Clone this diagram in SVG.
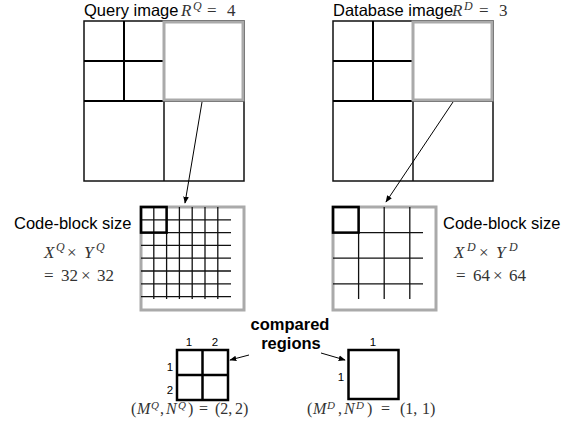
<svg xmlns="http://www.w3.org/2000/svg" width="574" height="429" viewBox="0 0 574 429">
<defs>
<style>
.lbl{font-family:"Liberation Sans",Arial,sans-serif;font-size:16.5px;fill:#000}
.bold{font-family:"Liberation Sans",Arial,sans-serif;font-size:16.5px;font-weight:bold;fill:#000}
.small{font-family:"Liberation Sans",Arial,sans-serif;font-size:11.5px;fill:#000}
.m{font-family:"Liberation Serif","Times New Roman",serif;font-size:17px;fill:#333}
.mi{font-style:italic}
.sup{font-size:12px;font-style:italic}
.supb{font-size:11px;font-style:italic}
.blk{fill:none;stroke:#111;stroke-width:1.5}
.blk2{fill:none;stroke:#000;stroke-width:2}
.gray{fill:none;stroke:#aaa;stroke-width:3}
.grid{stroke:#111;stroke-width:1.3}
.thick{fill:none;stroke:#000;stroke-width:2.5}
.arr{stroke:#000;stroke-width:1;fill:none;marker-end:url(#ah)}
</style>
<marker id="ah" viewBox="0 0 10 10" refX="9" refY="5" markerWidth="7" markerHeight="7" orient="auto" markerUnits="userSpaceOnUse">
<path d="M0,1 L10,5 L0,9 z" fill="#000"/>
</marker>
</defs>

<g id="query-image">
<text class="lbl" x="84" y="16">Query image</text>
<text class="m" y="16"><tspan class="mi" x="181">R</tspan><tspan class="sup" x="193" y="10">Q</tspan><tspan x="207" y="16">=</tspan><tspan x="227">4</tspan></text>
<rect class="blk" x="84" y="21" width="160" height="160"/>
<line class="blk2" x1="124" y1="21" x2="124" y2="101"/>
<line class="blk2" x1="84" y1="61" x2="164" y2="61"/>
<line class="blk2" x1="84" y1="101" x2="164" y2="101"/>
<line class="blk" x1="164" y1="101" x2="164" y2="181"/>
<line class="blk" x1="164" y1="101" x2="244" y2="101"/>
<rect class="gray" x="164" y="22" width="79" height="78"/>
</g>

<g id="database-image">
<text class="lbl" x="333" y="16">Database image</text>
<text class="m" y="16"><tspan class="mi" x="452">R</tspan><tspan class="sup" x="464" y="10">D</tspan><tspan x="479" y="16">=</tspan><tspan x="499">3</tspan></text>
<rect class="blk" x="333" y="21" width="160" height="160"/>
<line class="blk2" x1="373" y1="21" x2="373" y2="101"/>
<line class="blk2" x1="333" y1="61" x2="413" y2="61"/>
<line class="blk2" x1="333" y1="101" x2="413" y2="101"/>
<line class="blk" x1="413" y1="101" x2="413" y2="181"/>
<line class="blk" x1="413" y1="101" x2="493" y2="101"/>
<rect class="gray" x="413" y="22" width="79" height="78"/>
</g>

<g id="query-codeblocks">
<text class="lbl" x="14" y="229">Code-block size</text>
<text class="m" y="258"><tspan class="mi" x="44">X</tspan><tspan class="sup" x="56" y="251">Q</tspan><tspan x="67" y="258">×</tspan><tspan class="mi" x="84">Y</tspan><tspan class="sup" x="96" y="251">Q</tspan></text>
<text class="m" y="281"><tspan x="44">=</tspan><tspan x="61">32</tspan><tspan x="81">×</tspan><tspan x="97">32</tspan></text>
<rect class="gray" x="141" y="207" width="103" height="103"/>
<g class="grid">
<line x1="153.8" y1="207" x2="153.8" y2="299"/>
<line x1="166.6" y1="207" x2="166.6" y2="299"/>
<line x1="179.4" y1="207" x2="179.4" y2="299"/>
<line x1="192.2" y1="207" x2="192.2" y2="299"/>
<line x1="205" y1="207" x2="205" y2="299"/>
<line x1="217.8" y1="207" x2="217.8" y2="299"/>
<line x1="141" y1="219.8" x2="231" y2="219.8"/>
<line x1="141" y1="232.6" x2="231" y2="232.6"/>
<line x1="141" y1="245.4" x2="231" y2="245.4"/>
<line x1="141" y1="258.2" x2="231" y2="258.2"/>
<line x1="141" y1="271" x2="231" y2="271"/>
<line x1="141" y1="283.8" x2="231" y2="283.8"/>
<line x1="141" y1="296.6" x2="231" y2="296.6"/>
</g>
<rect class="thick" x="141" y="207" width="25.6" height="25.6"/>
</g>

<g id="database-codeblocks">
<text class="lbl" x="443" y="229">Code-block size</text>
<text class="m" y="258"><tspan class="mi" x="454">X</tspan><tspan class="sup" x="467" y="251">D</tspan><tspan x="479" y="258">×</tspan><tspan class="mi" x="496">Y</tspan><tspan class="sup" x="509" y="251">D</tspan></text>
<text class="m" y="281"><tspan x="456">=</tspan><tspan x="473">64</tspan><tspan x="493">×</tspan><tspan x="509">64</tspan></text>
<rect class="gray" x="333" y="207" width="103" height="103"/>
<g class="grid">
<line x1="358.6" y1="207" x2="358.6" y2="299"/>
<line x1="384.2" y1="207" x2="384.2" y2="299"/>
<line x1="409.8" y1="207" x2="409.8" y2="299"/>
<line x1="333" y1="232.6" x2="423" y2="232.6"/>
<line x1="333" y1="258.2" x2="423" y2="258.2"/>
<line x1="333" y1="283.8" x2="423" y2="283.8"/>
</g>
<rect class="thick" x="333" y="207" width="25.6" height="25.6"/>
</g>

<g id="compared-label">
<text class="bold" x="290" y="330" text-anchor="middle">compared</text>
<text class="bold" x="291" y="349" text-anchor="middle">regions</text>
</g>

<g id="query-region">
<rect class="thick" x="177" y="350" width="51" height="50"/>
<line class="thick" x1="202.5" y1="350" x2="202.5" y2="400"/>
<line class="thick" x1="177" y1="375" x2="228" y2="375"/>
<text class="small" x="189" y="346" text-anchor="middle">1</text>
<text class="small" x="215" y="346" text-anchor="middle">2</text>
<text class="small" x="170" y="371" text-anchor="middle">1</text>
<text class="small" x="170" y="394" text-anchor="middle">2</text>
<text class="m" y="414" style="font-size:16px"><tspan x="131">(</tspan><tspan class="mi" x="137">M</tspan><tspan class="supb" x="151" y="409">Q</tspan><tspan x="160" y="414">,</tspan><tspan class="mi" x="166">N</tspan><tspan class="supb" x="178" y="409">Q</tspan><tspan x="188" y="414">)</tspan><tspan x="199">=</tspan><tspan x="215">(2,</tspan><tspan x="235">2)</tspan></text>
</g>

<g id="database-region">
<rect class="thick" x="348.5" y="350" width="50" height="49"/>
<text class="small" x="373" y="346" text-anchor="middle">1</text>
<text class="small" x="341" y="381" text-anchor="middle">1</text>
<text class="m" y="414" style="font-size:16px"><tspan x="307">(</tspan><tspan class="mi" x="313">M</tspan><tspan class="supb" x="327" y="409">D</tspan><tspan x="338" y="414">,</tspan><tspan class="mi" x="344">N</tspan><tspan class="supb" x="356" y="409">D</tspan><tspan x="367" y="414">)</tspan><tspan x="381">=</tspan><tspan x="400">(1,</tspan><tspan x="422">1)</tspan></text>
</g>

<g id="connectors">
<line class="arr" x1="202" y1="102" x2="185" y2="203"/>
<line class="arr" x1="453" y1="102" x2="386" y2="202"/>
<line class="arr" x1="249" y1="355" x2="230" y2="360"/>
<line class="arr" x1="321" y1="353" x2="345" y2="360"/>
</g>
</svg>
